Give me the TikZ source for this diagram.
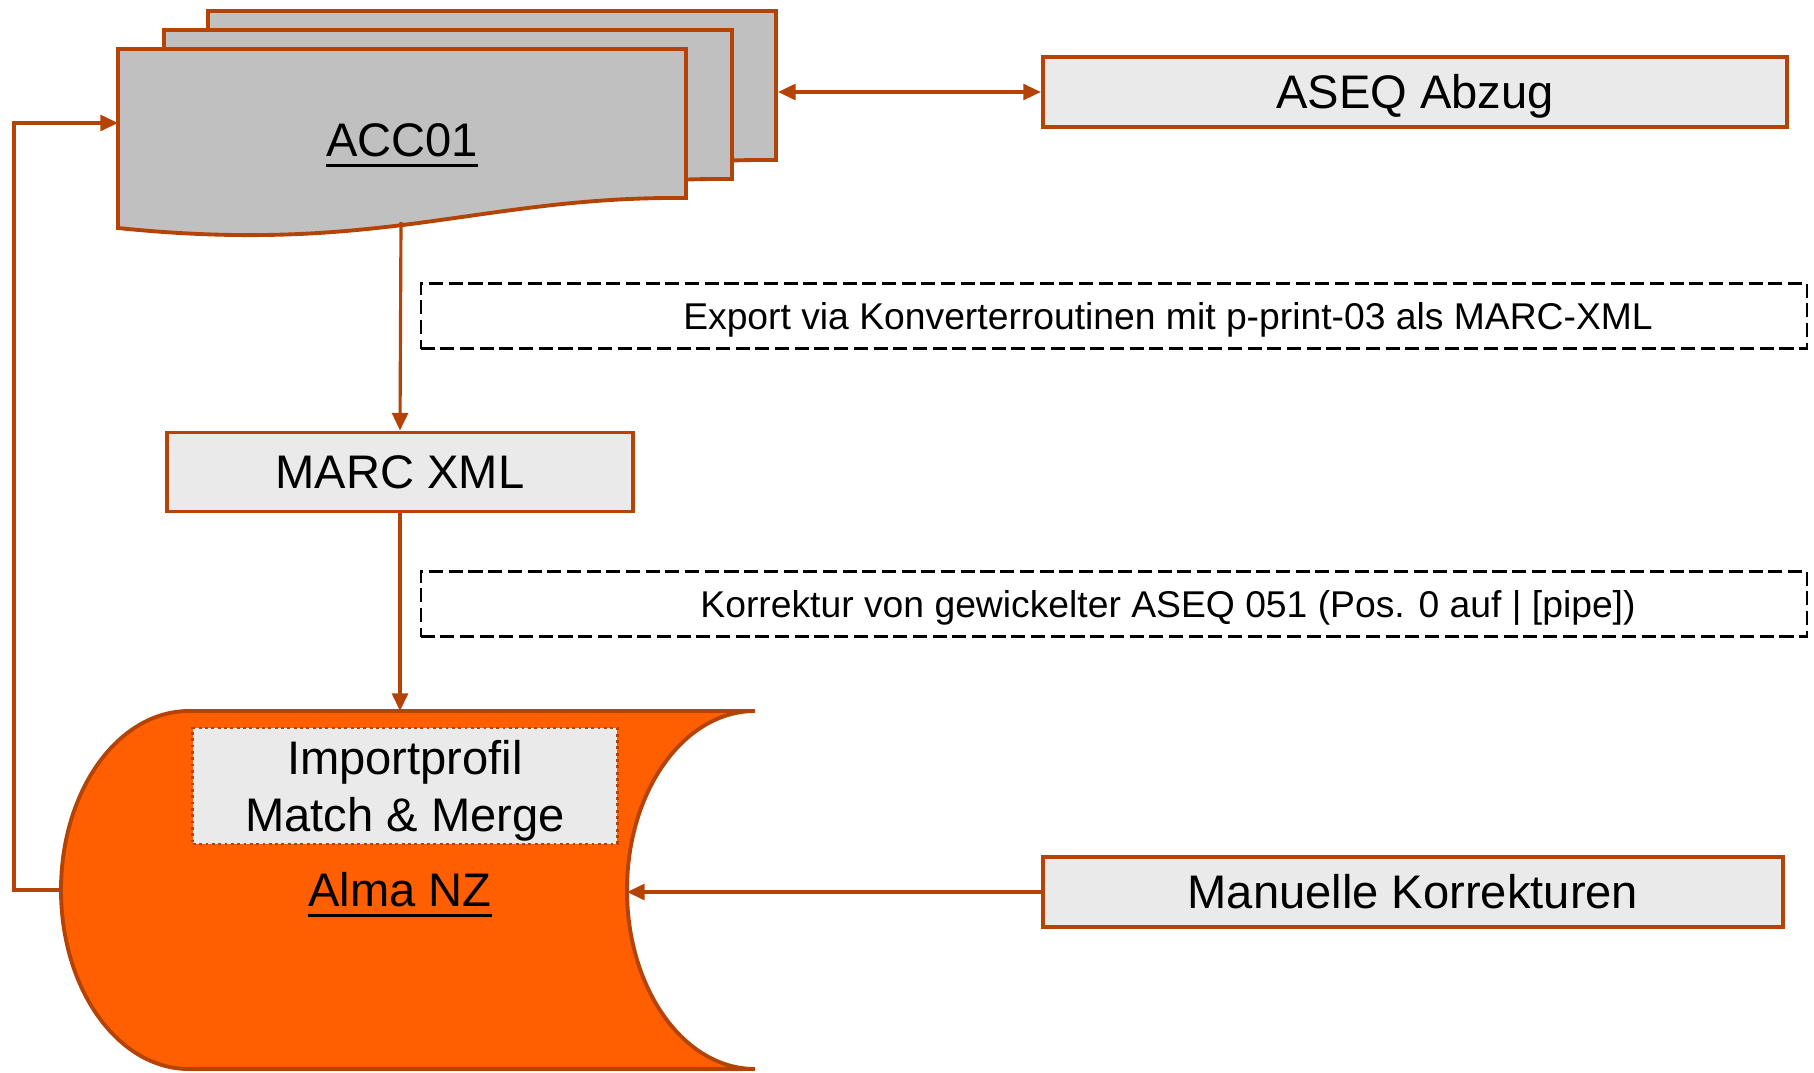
\documentclass[tikz,border=0pt]{standalone}
\usepackage{fontspec}
\setmainfont{Liberation Sans}
\usetikzlibrary{arrows.meta}

\definecolor{rost}{HTML}{B54305}
\definecolor{almaorange}{HTML}{FF5F00}
\definecolor{docgrau}{HTML}{C0C0C0}
\definecolor{boxgrau}{HTML}{EAEAEA}

\newcommand{\linktext}[1]{\setbox0\hbox{#1}\rlap{\rule[-2.8pt]{\wd0}{0.8pt}}\box0}

\begin{document}
\begin{tikzpicture}[x=0.01cm,y=-0.01cm,
  titel/.style={inner sep=0pt,font=\fontsize{13.4}{15.6}\selectfont,
    text height=9.6pt,text depth=0pt},
  box/.style={titel,draw=rost,fill=boxgrau,line width=1.1pt},
  notiz/.style={draw=black,line width=0.6pt,dash pattern=on 4pt off 1.6pt,
    inner sep=0pt,minimum width=13.86cm,minimum height=0.65cm,
    font=\fontsize{10.6}{13}\selectfont,text height=7.6pt,text depth=0pt},
  fluss/.style={draw=rost,line width=0.9pt,-{Triangle[length=5pt,width=4.5pt]}},
  blatt/.style={draw=rost,fill=docgrau,line width=1.1pt}]
  \useasboundingbox (0,0) rectangle (1814,1072);

  % Dokumentenstapel ACC01 (von hinten nach vorne)
  \foreach \dx/\dy in {90/-38,46/-19,0/0}
    \filldraw[blatt,shift={(\dx,\dy)}] (118,49) -- (686,49) -- (686,198)
      .. controls (480,196) and (380,255) .. (118,228) -- cycle;
  \node[titel] (acc) at (402,140) {\linktext{ACC01}};
  \coordinate (accback) at (778,92);
  \coordinate (accwest) at (118,123);
  \coordinate (accsouth) at (401,222);

  % Alma NZ (gespeicherte Daten)
  \filldraw[draw=rost,fill=almaorange,line width=1.1pt] (189,711) -- (755,711)
    .. controls (684,711) and (627,791) .. (627,890)
    .. controls (627,989) and (684,1069) .. (755,1069) -- (189,1069)
    .. controls (118,1069) and (61,989) .. (61,890)
    .. controls (61,791) and (118,711) .. (189,711) -- cycle;
  \coordinate (almanorth) at (400,711);
  \coordinate (almaeast) at (627,892);
  \coordinate (almawest) at (61,890);
  \node[draw=rost,fill=boxgrau,densely dotted,line width=0.8pt,inner sep=0pt,
    minimum width=4.24cm,minimum height=1.16cm,align=center,
    font=\fontsize{13.4}{16}\selectfont] (profil) at (405,786)
    {\rule{0pt}{12.5pt}Importprofil\\Match \& Merge};
  \node[titel] (alma) at (400,890) {\linktext{Alma NZ}};

  % Kästen
  \node[box,minimum width=7.44cm,minimum height=0.7cm] (aseq) at (1415,92) {ASEQ Abzug};
  \node[box,minimum width=4.65cm,minimum height=0.79cm] (marc) at (400,472) {MARC XML};
  \node[box,minimum width=7.40cm,minimum height=0.7cm] (manuell) at (1413,892) {Manuelle Korrekturen};

  % Hinweise
  \node[notiz] (export) at (1114,316)
    {\hspace*{1.08cm}Export via Konverterroutinen mit p-print-03 als MARC-XML};
  \node[notiz] (korrektur) at (1114,604)
    {\hspace*{1.08cm}Korrektur von gewickelter ASEQ 051 (Pos. 0 auf | [pipe])};

  % Verbindungen
  \draw[fluss,{Triangle[length=5pt,width=4.5pt]}-{Triangle[length=5pt,width=4.5pt]}] (accback) -- (aseq.west);
  \draw[fluss] (accsouth) -- (marc.north);
  \draw[fluss] (marc.south) -- (almanorth);
  \draw[fluss] (manuell.west) -- (almaeast);
  \draw[fluss] (almawest) -- ++(-47,0) |- (accwest);
\end{tikzpicture}
\end{document}
